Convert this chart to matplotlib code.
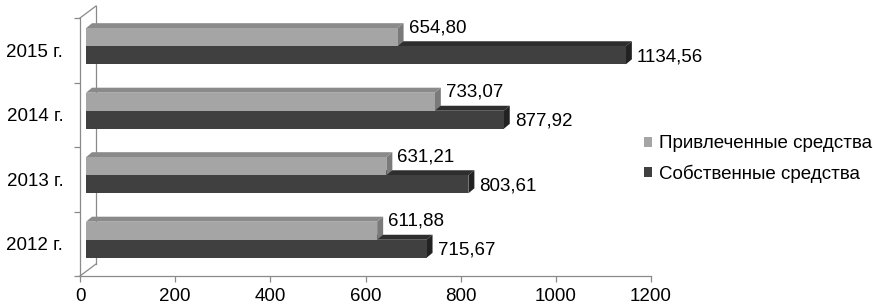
import matplotlib
matplotlib.use('Agg')
import matplotlib.pyplot as plt
import matplotlib.transforms as mtransforms
from matplotlib.patches import Polygon, Patch
from matplotlib.lines import Line2D

# ---- data ----
years = ['2012 г.', '2013 г.', '2014 г.', '2015 г.']
borrowed = [611.88, 631.21, 733.07, 654.80]     # Привлеченные средства
own = [715.67, 803.61, 877.92, 1134.56]         # Собственные средства
series_names = ['Привлеченные средства', 'Собственные средства']
xticks = [0, 200, 400, 600, 800, 1000, 1200]

# ---- style ----
plt.rcParams['font.family'] = ['Liberation Sans', 'DejaVu Sans']
FS = 13.5
W, H = 873, 306
DPI = 100
light = dict(front='#a5a5a5', top='#8a8a8a', side='#7a7a7a')
dark = dict(front='#404040', top='#2e2e2e', side='#222222')
axis_col = '#8a8a8a'

fig = plt.figure(figsize=(W / DPI, H / DPI), dpi=DPI)
ax = fig.add_axes([80 / W, 30 / H, 571 / W, 258 / H])
ax.set_xlim(0, 1200)
ax.set_ylim(-0.5, 3.5)

sx = 571 / 1200.0   # px per x unit
sy = 258 / 4.0      # px per y unit

# front-face shift (3D) and depth
shift = mtransforms.ScaledTranslation(6 / DPI, 4 / DPI, fig.dpi_scale_trans)
tr = ax.transData + shift
dxd = 6 / sx
dyd = 5 / sy
h = 0.28


def draw_bar(y, v, cols, z):
    yb, yt = y - h / 2, y + h / 2
    top = Polygon([(0, yt), (v, yt), (v + dxd, yt + dyd), (dxd, yt + dyd)],
                  closed=True, facecolor=cols['top'], edgecolor='none',
                  transform=tr, zorder=z)
    side = Polygon([(v, yb), (v, yt), (v + dxd, yt + dyd), (v + dxd, yb + dyd)],
                   closed=True, facecolor=cols['side'], edgecolor='none',
                   transform=tr, zorder=z)
    ax.add_patch(top)
    ax.add_patch(side)
    ax.barh([y], [v], height=h, left=0, color=cols['front'], transform=tr,
            zorder=z + 0.1, linewidth=0)


for i in range(len(years)):
    z = 2 + i * 2
    draw_bar(i - 0.14, own[i], dark, z)
    draw_bar(i + 0.14, borrowed[i], light, z + 1)


def fmt(v):
    return f"{v:.2f}".replace('.', ',')


for i in range(len(years)):
    ax.annotate(fmt(borrowed[i]), xy=(borrowed[i], i + 0.14), xytext=(17, 13.5),
                textcoords='offset pixels', ha='left', va='center', fontsize=FS,
                annotation_clip=False, zorder=20)
    ax.annotate(fmt(own[i]), xy=(own[i], i - 0.14), xytext=(17, 2.5),
                textcoords='offset pixels', ha='left', va='center', fontsize=FS,
                annotation_clip=False, zorder=20)

# axes / walls
for s in ['top', 'right']:
    ax.spines[s].set_visible(False)
for s in ['left', 'bottom']:
    ax.spines[s].set_color(axis_col)
    ax.spines[s].set_linewidth(0.9)

ax.set_xticks(xticks)
ax.set_xticklabels([str(t) for t in xticks], fontsize=FS)
ax.tick_params(axis='x', direction='out', length=4, width=0.9, color=axis_col, pad=4.5)
ax.set_yticks(range(len(years)))
ax.set_yticklabels(years, fontsize=FS)
ax.tick_params(axis='y', which='major', length=0, pad=12)
ax.set_yticks([-0.5, 0.5, 1.5, 2.5, 3.5], minor=True)
ax.tick_params(axis='y', which='minor', direction='out', length=4, width=0.9, color=axis_col)

depth = mtransforms.ScaledTranslation(16 / DPI, 12 / DPI, fig.dpi_scale_trans)
ta = ax.transAxes
tb = ax.transAxes + depth
# back vertical wall edge
ax.add_line(Line2D([0, 0], [0, 1], transform=tb, color=axis_col, lw=0.9, clip_on=False))
# diagonals
for yy in (0, 1):
    p0 = ta.transform((0, yy))
    p1 = tb.transform((0, yy))
    ax.add_line(Line2D([p0[0], p1[0]], [p0[1], p1[1]], transform=None,
                       color=axis_col, lw=0.9, clip_on=False))

# legend
handles = [Patch(facecolor=light['front'], edgecolor='none'),
           Patch(facecolor=dark['front'], edgecolor='none')]
fig.legend(handles, series_names, loc='center left',
           bbox_to_anchor=(644 / W, 1 - 159 / H), bbox_transform=fig.transFigure,
           frameon=False, fontsize=FS, handlelength=0.45, handleheight=0.45,
           handletextpad=0.35, labelspacing=0.65, borderpad=0, borderaxespad=0)

fig.savefig('out.png', dpi=DPI)
